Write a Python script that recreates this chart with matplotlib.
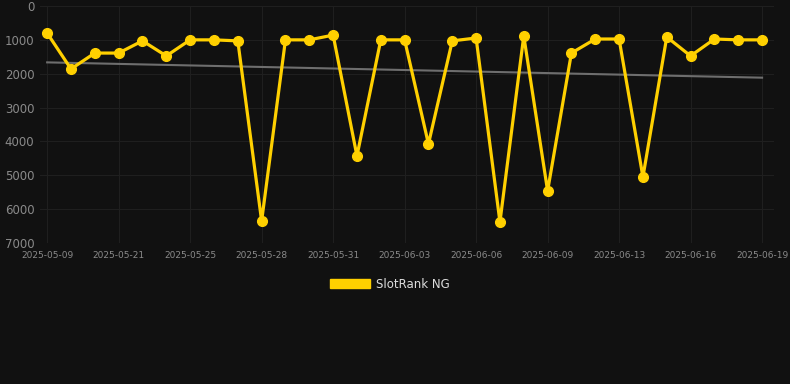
import matplotlib
matplotlib.use("Agg")
import matplotlib.pyplot as plt
from matplotlib.patches import Patch
import numpy as np

# Data (rank values, lower is better; y-axis inverted)
ranks = [800, 1860, 1390, 1390, 1030, 1475, 1000, 1000, 1030, 6350,
         1000, 1000, 860, 4430, 1000, 1000, 4075, 1030, 945, 6380,
         885, 5460, 1390, 975, 975, 5050, 915, 1475, 975, 1000, 1000]
tick_labels = ["2025-05-09", "2025-05-21", "2025-05-25", "2025-05-28",
               "2025-05-31", "2025-06-03", "2025-06-06", "2025-06-09",
               "2025-06-13", "2025-06-16", "2025-06-19"]
tick_step = 3
trend_start = 1665
trend_end = 2117
series_name = "SlotRank NG"

BG = "#111111"
YELLOW = "#FFD000"

fig = plt.figure(figsize=(7.9, 3.84), dpi=100, facecolor=BG)
W, H = 790, 384
ax = fig.add_axes([40 / W, (H - 243) / H, (774 - 40) / W, (243 - 6) / H])
ax.set_facecolor(BG)

x = np.arange(len(ranks))
ax.plot([x[0], x[-1]], [trend_start, trend_end], color="#6e6e6e", lw=1.5, zorder=2)
ax.plot(x, ranks, color=YELLOW, lw=2.3, marker="o", markersize=7,
        solid_joinstyle="miter", zorder=3)

ax.set_ylim(7000, 0)
ax.set_yticks(np.arange(0, 7001, 1000))
ax.set_xlim(-0.3, 30.5)
ax.set_xticks(x[::tick_step])
ax.set_xticklabels(tick_labels)

ax.grid(True, color="#1f1f1f", lw=0.8)
ax.set_axisbelow(True)
for s in ax.spines.values():
    s.set_visible(False)
ax.tick_params(axis="both", length=0, colors="#8a8a8a")
ax.tick_params(axis="y", labelsize=8.5, pad=4)
ax.tick_params(axis="x", labelsize=6.5, pad=6)

handle = Patch(facecolor=YELLOW, edgecolor=YELLOW, label=series_name)
leg = fig.legend(handles=[handle], loc="center", bbox_to_anchor=(390 / W, (H - 284) / H),
                 frameon=False, fontsize=8.5, handlelength=3.4, handleheight=0.85,
                 handletextpad=0.5)
for t in leg.get_texts():
    t.set_color("#dddddd")

fig.savefig("out.png", dpi=100, facecolor=BG)
